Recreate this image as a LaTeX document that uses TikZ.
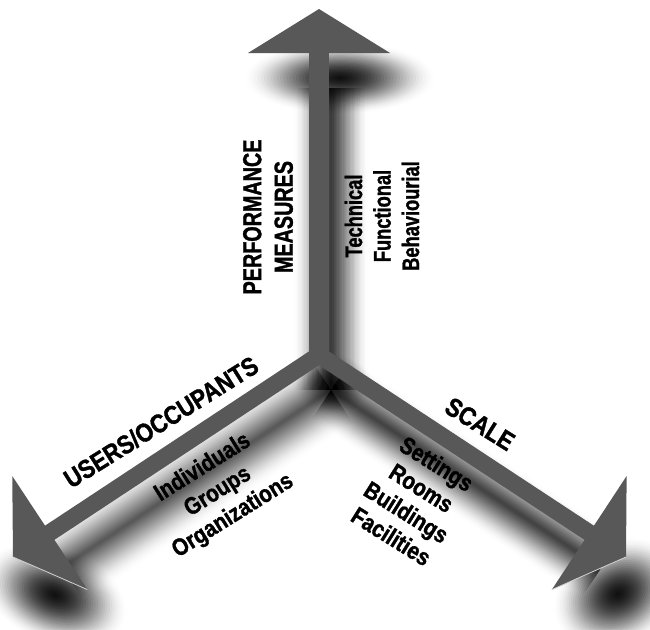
\documentclass[tikz,border=0pt]{standalone}
\usepackage{fontspec}
\usetikzlibrary{calc}
\newfontfamily\vertlabelfont{Liberation Sans}[FakeStretch=0.76,FakeBold=1.3]
\newfontfamily\diaglabelfont{Liberation Sans}[FakeStretch=0.86,FakeBold=1.3]
\definecolor{arrowgray}{RGB}{88,88,88}
\tikzset{
  shaft/.style={draw=arrowgray, line cap=butt},
  head/.style={fill=arrowgray},
  rim/.style={draw=gray!35, line width=0.8pt},
  haze/.style={draw=black, line cap=butt, opacity=#1},
  blob/.style={fill=black, opacity=#1},
  biglabel/.style={font=\bfseries\fontsize{26}{31.5}\selectfont, align=center, inner sep=0pt},
  smalllabel/.style={font=\bfseries\fontsize{24}{28.5}\selectfont, align=center, inner sep=0pt},
}
\begin{document}
\begin{tikzpicture}[x=1pt,y=-1pt]
\useasboundingbox[fill=white] (0,0) rectangle (650,629);
% centre and tips
\coordinate (c) at (319,355);
\coordinate (uptip) at (319,9);
\coordinate (lefttip) at (13,557);
\coordinate (righttip) at (626,557);
% bases of the heads
\coordinate (upbase) at ($(uptip)!44pt!(c)$);
\coordinate (leftbase) at ($(lefttip)!44pt!(c)$);
\coordinate (rightbase) at ($(righttip)!44pt!(c)$);
\coordinate (upl) at ($(upbase)!71pt!90:(uptip)$);
\coordinate (upr) at ($(upbase)!71pt!-90:(uptip)$);
\coordinate (lefthigh) at ($(leftbase)!68pt!-90:(lefttip)$);
\coordinate (leftlow) at ($(leftbase)!68pt!90:(lefttip)$);
\coordinate (righthigh) at ($(rightbase)!68pt!90:(righttip)$);
\coordinate (rightlow) at ($(rightbase)!68pt!-90:(righttip)$);
% shadow points
\foreach \p in {c,upbase,leftbase,rightbase}
  \coordinate (s\p) at ($(\p)+(12,35)$);
\coordinate (upblob) at (340,78);
\coordinate (midblob) at (333,384);
\coordinate (leftblob) at (55,595);
\coordinate (rightblob) at (618,594);

% soft shadows: even steps, darker towards the middle
\foreach \k in {1,...,30}{
  \pgfmathsetmacro\f{(31-\k)/30}
  \pgfmathsetmacro\o{0.0028*\k}
  \pgfmathsetmacro\q{0.002*\k}
  \pgfmathsetmacro\r{0.0026*\k}
  \draw[haze=\o, line width={76*\f*1pt}] (sc) -- (supbase);
  \draw[haze=\q, line width={80*\f*1pt}] (sc) -- (sleftbase);
  \draw[haze=\r, line width={72*\f*1pt}] (sc) -- (srightbase);
}
\foreach \k in {1,...,30}{
  \pgfmathsetmacro\f{(31-\k)/30}
  \pgfmathsetmacro\o{0.005*\k}
  \fill[blob=\o] (upblob) ellipse ({95*\f} and {36*\f});
  \fill[blob=\o, rotate=-22] (leftblob) ellipse ({75*\f} and {48*\f});
  \fill[blob=\o, rotate=30] (rightblob) ellipse ({68*\f} and {52*\f});
  \fill[blob={0.5*\o}] (midblob) ellipse ({40*\f} and {30*\f});
}

% the three axes
\draw[shaft, line width=20pt] (c) -- ($(upbase)!4pt!(uptip)$);
\draw[shaft, line width=17pt] (c) -- ($(leftbase)!4pt!(lefttip)$);
\draw[shaft, line width=17pt] (c) -- ($(rightbase)!4pt!(righttip)$);
\fill[head] (upl) -- (uptip) -- (upr) -- cycle;
\fill[head] (lefthigh) -- (lefttip) -- (leftlow) -- cycle;
\fill[head] (righthigh) -- (righttip) -- (rightlow) -- cycle;
\draw[rim] (lefttip) -- (leftlow);
\draw[rim] (righttip) -- (rightlow);

% labels
\node[biglabel, rotate=90] (perf) at (268,217) {\vertlabelfont PERFORMANCE\\\vertlabelfont MEASURES};
\node[smalllabel, rotate=90] (kinds) at (382,216) {\vertlabelfont Technical\\\vertlabelfont Functional\\\vertlabelfont Behaviourial};
\node[biglabel, rotate=32] (users) at (161,422) {\diaglabelfont USERS/OCCUPANTS};
\node[smalllabel, rotate=32] (groups) at (218,492) {\diaglabelfont Individuals\\\diaglabelfont Groups\\\diaglabelfont Organizations};
\node[biglabel, rotate=-32] (scale) at (480,424) {\diaglabelfont SCALE};
\node[smalllabel, rotate=-32] (sizes) at (414,500) {\diaglabelfont Settings\\\diaglabelfont Rooms\\\diaglabelfont Buildings\\\diaglabelfont Facilities};
\end{tikzpicture}
\end{document}
